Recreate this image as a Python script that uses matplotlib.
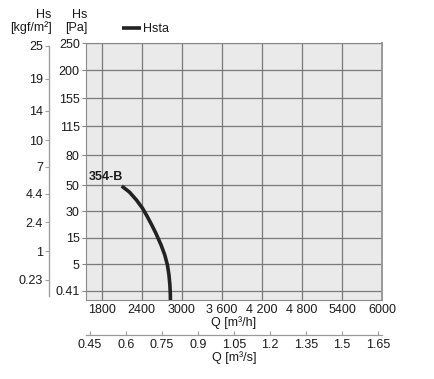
import numpy as np
import matplotlib
matplotlib.use('Agg')
import matplotlib.pyplot as plt

plt.rcParams['font.family'] = ['Liberation Sans', 'DejaVu Sans']

# ticks of the pressure axis (roughly evenly spaced, not linear)
pa_ticks = [0.41, 5, 15, 30, 50, 80, 115, 155, 200, 250]
kgf_ticks = [0.23, 1, 2.4, 4.4, 7, 10, 14, 19, 25]
q_h_ticks = [1800, 2400, 3000, 3600, 4200, 4800, 5400, 6000]
q_h_labels = ['1800', '2400', '3000', '3 600', '4 200', '4 800', '5400', '6000']
q_s_ticks = [0.45, 0.6, 0.75, 0.9, 1.05, 1.2, 1.35, 1.5, 1.65]

# curve 354-B
q_curve = [2100, 2215, 2320, 2412, 2484, 2550, 2612, 2690, 2745, 2785, 2808, 2822, 2829, 2830]
pa_curve = [49.2, 44.6, 38.5, 32.1, 26.8, 22.1, 17.4, 12.2, 8.5, 4.88, 3.13, 1.37, -0.38, -2.1]

# where each pressure tick sits on the chart's scale (as printed)
pos = np.array([9.5, 35.7, 62.5, 89, 115, 144.7, 173.7, 201.7, 229.7, 257.0])
pa_arr = np.array(pa_ticks, dtype=float)
lo_slope = (pos[1] - pos[0]) / (pa_arr[1] - pa_arr[0])
hi_slope = (pos[-1] - pos[-2]) / (pa_arr[-1] - pa_arr[-2])


def fwd(p):
    p = np.asarray(p, dtype=float)
    out = np.interp(p, pa_arr, pos)
    out = np.where(p < pa_arr[0], pos[0] + (p - pa_arr[0]) * lo_slope, out)
    out = np.where(p > pa_arr[-1], pos[-1] + (p - pa_arr[-1]) * hi_slope, out)
    return out


def inv(i):
    i = np.asarray(i, dtype=float)
    out = np.interp(i, pos, pa_arr)
    out = np.where(i < pos[0], pa_arr[0] + (i - pos[0]) / lo_slope, out)
    out = np.where(i > pos[-1], pa_arr[-1] + (i - pos[-1]) / hi_slope, out)
    return out


txt = '#1a1a1a'
grid_c = '#7a7a7a'
fs = 9

fig = plt.figure(figsize=(4.34, 3.79), dpi=100)
ax = fig.add_axes([86 / 434, 1 - 300 / 379, (382 - 86) / 434, (300 - 43) / 379])
ax.set_facecolor('#e9eae9')

ax.set_yscale('function', functions=(fwd, inv))
ax.set_ylim(float(inv(0.0)), 250)
ax.set_xlim(1565, 6000)

ax.plot(q_curve, pa_curve, color='#222222', lw=2.6, solid_capstyle='butt',
        solid_joinstyle='round', label='Hsta')

ax.set_yticks(pa_ticks)
ax.set_yticklabels([str(v) for v in pa_ticks])
ax.set_xticks(q_h_ticks)
ax.set_xticklabels(q_h_labels)
ax.grid(True, color=grid_c, lw=0.9)
ax.set_axisbelow(True)
ax.tick_params(axis='y', length=3, width=0.8, color='#888888', pad=1.5, labelsize=fs, labelcolor=txt)
ax.tick_params(axis='x', length=0, pad=3, labelsize=fs, labelcolor=txt)
for s in ['left', 'top', 'bottom']:
    ax.spines[s].set_color('#8a8a8a')
    ax.spines[s].set_linewidth(0.8)
ax.spines['right'].set_color('#9a9a9a')
ax.spines['right'].set_linewidth(1.4)
ax.set_xlabel('Q [m³/h]', fontsize=fs, color=txt, labelpad=0)

ax.annotate('354-B', (q_curve[0], pa_curve[0]), xytext=(1, 3), textcoords='offset pixels',
            ha='right', va='bottom', fontsize=fs, fontweight='bold', color=txt)

# kgf/m2 axis on the far left
ax2 = ax.twinx()
ax2.set_yscale('function', functions=(fwd, inv))
ax2.set_ylim(ax.get_ylim())
ax2.yaxis.set_ticks_position('left')
ax2.yaxis.set_label_position('left')
ax2.spines['right'].set_visible(False)
ax2.spines['top'].set_visible(False)
ax2.spines['bottom'].set_visible(False)
ax2.spines['left'].set_position(('outward', 26.5))
ax2.spines['left'].set_color('#a0a0a0')
ax2.spines['left'].set_linewidth(1.0)
ax2.spines['left'].set_bounds(-0.6, 245)
ax2.set_yticks([v * 9.81 for v in kgf_ticks])
ax2.set_yticklabels([str(v) for v in kgf_ticks])
ax2.tick_params(axis='y', length=3, width=0.8, color='#a0a0a0', pad=1.5, labelsize=fs, labelcolor=txt)

# m3/s axis below
sec = ax.secondary_xaxis(-0.136, functions=(lambda q: q / 3600, lambda s: s * 3600))
sec.set_xticks(q_s_ticks)
sec.set_xticklabels([str(v) for v in q_s_ticks])
sec.tick_params(axis='x', direction='in', length=3, width=0.8, color='#999999', pad=3,
                labelsize=fs, labelcolor=txt)
sec.spines['bottom'].set_color('#9a9a9a')
sec.spines['bottom'].set_linewidth(0.9)
sec.set_xlabel('Q [m³/s]', fontsize=fs, color=txt, labelpad=0)

# axis headers
fig.text(51.5 / 434, 1 - 15 / 379, 'Hs', ha='right', va='center', fontsize=fs, color=txt)
fig.text(51.5 / 434, 1 - 28 / 379, '[kgf/m²]', ha='right', va='center', fontsize=fs, color=txt)
fig.text(87 / 434, 1 - 15 / 379, 'Hs', ha='right', va='center', fontsize=fs, color=txt)
fig.text(87 / 434, 1 - 28 / 379, '[Pa]', ha='right', va='center', fontsize=fs, color=txt)

ax.legend(loc='center left', bbox_to_anchor=(122 / 434, 1 - 29 / 379), bbox_transform=fig.transFigure,
          frameon=False, handlelength=1.5, handletextpad=0.15, borderpad=0, borderaxespad=0,
          fontsize=fs, labelcolor=txt)

fig.savefig('out.png', dpi=100)
